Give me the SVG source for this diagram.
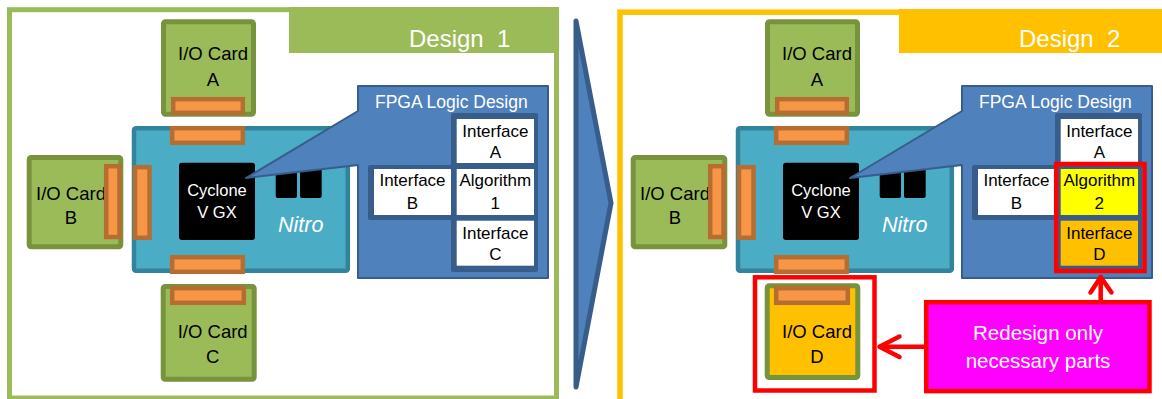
<svg xmlns="http://www.w3.org/2000/svg" width="1162" height="399" viewBox="0 0 1162 399">
<defs>
<style>
text{font-family:"Liberation Sans",Arial,sans-serif}
.card{fill:#9BBB59;stroke:#77933C;stroke-width:5}
.cardD{fill:#FFC000;stroke:#77933C;stroke-width:5}
.conn{fill:#F79646;stroke:#B66D31;stroke-width:4.5}
.board{fill:#4BACC6;stroke:#31849B;stroke-width:4.5}
.chip{fill:#000}
.callout{fill:#4F81BD;stroke:#385D8A;stroke-width:2;stroke-linejoin:round}
.frame{fill:#385D8A}
.cell{fill:#FFFFFF}
.ct{font-size:18.5px;fill:#000;text-anchor:middle}
.cellt{font-size:17px;fill:#000;text-anchor:middle}
.chipt{font-size:16.5px;fill:#FFFFFF;text-anchor:middle}
.nitro{font-size:21.5px;font-style:italic;fill:#FFFFFF}
.fpgat{font-size:17.5px;fill:#FFFFFF}
.red{fill:none;stroke:#FF0000;stroke-width:4.5}
.arrow{fill:none;stroke:#FF0000;stroke-width:4.5;stroke-linecap:round;stroke-linejoin:round}
</style>
</defs>

<!-- Panel 1 -->
<g id="panel1">
<rect x="9.5" y="9.7" width="547" height="388.3" fill="#FFFFFF" stroke="#9BBB59" stroke-width="5"/>
<rect x="289" y="7" width="270" height="46" fill="#9BBB59"/>
<text x="409" y="47" font-size="24" fill="#FFFFFF" xml:space="preserve">Design  1</text>
</g>

<g id="cardA1">
<rect class="card" x="163.5" y="21.8" width="90" height="92.4" rx="2"/>
<text class="ct" x="213" y="60">I/O Card</text>
<text class="ct" x="213" y="86">A</text>
<rect class="conn" x="173.2" y="99.2" width="69.6" height="13.6"/>
</g>

<g id="cardB1">
<rect class="card" x="29.2" y="157.5" width="91.6" height="89.3" rx="2"/>
<text class="ct" x="71" y="200">I/O Card</text>
<text class="ct" x="71" y="224">B</text>
<rect class="conn" x="106.2" y="166.2" width="13.3" height="70.8"/>
</g>

<g id="board1">
<rect class="board" x="134" y="128.3" width="213.8" height="142.5" rx="2"/>
<rect class="conn" x="172.2" y="128.2" width="70.6" height="14.6"/>
<rect class="conn" x="135" y="167.2" width="14.5" height="70.6"/>
<rect class="conn" x="172.2" y="257.2" width="70.6" height="14.6"/>
<rect class="chip" x="179" y="162.7" width="76" height="77.3" rx="3"/>
<text class="chipt" x="217" y="196">Cyclone</text>
<text class="chipt" x="217" y="218">V GX</text>
<rect class="chip" x="275.7" y="165" width="21.3" height="33" rx="2"/>
<rect class="chip" x="300" y="165" width="21.7" height="33" rx="2"/>
<text class="nitro" x="278" y="231.7">Nitro</text>
</g>

<g id="cardC1">
<rect class="card" x="163.2" y="286.5" width="91" height="92.7" rx="2"/>
<text class="ct" x="212.7" y="338">I/O Card</text>
<text class="ct" x="212.7" y="363">C</text>
<rect class="conn" x="172.2" y="288.2" width="71.6" height="14.6"/>
</g>

<g id="fpga1">
<path class="callout" d="M358,86 H548 V278 H358 V165 L246,178 L358,111 Z"/>
<text class="fpgat" x="375" y="108">FPGA Logic Design</text>
<rect class="frame" x="451" y="113" width="87" height="159" rx="2"/>
<rect class="frame" x="368" y="165" width="86" height="55" rx="2"/>
<rect class="cell" x="456.7" y="119" width="77.3" height="44"/>
<rect class="cell" x="456.7" y="169" width="77.3" height="46"/>
<rect class="cell" x="456.7" y="220.7" width="77.3" height="45"/>
<rect class="cell" x="374" y="169" width="77" height="46"/>
<text class="cellt" x="495.3" y="137">Interface</text>
<text class="cellt" x="495.3" y="158">A</text>
<text class="cellt" x="495.3" y="186">Algorithm</text>
<text class="cellt" x="495.3" y="209">1</text>
<text class="cellt" x="495.3" y="239">Interface</text>
<text class="cellt" x="495.3" y="260">C</text>
<text class="cellt" x="412.5" y="186">Interface</text>
<text class="cellt" x="412.5" y="209">B</text>
</g>

<!-- big arrow -->
<g id="bigArrow">
<polygon points="576,21 611,203 576,387" fill="#4F81BD" stroke="#385D8A" stroke-width="5" stroke-linejoin="round"/>
</g>

<!-- Panel 2 -->
<g id="panel2">
<rect x="620" y="12.2" width="560" height="400" fill="#FFFFFF" stroke="#FFC000" stroke-width="5.5"/>
<rect x="899" y="9" width="270" height="44" fill="#FFC000"/>
<text x="1019" y="47" font-size="24" fill="#FFFFFF" xml:space="preserve">Design  2</text>
</g>

<g id="cardA2">
<rect class="card" x="767.5" y="21.8" width="90" height="92.4" rx="2"/>
<text class="ct" x="817" y="60">I/O Card</text>
<text class="ct" x="817" y="86">A</text>
<rect class="conn" x="777.2" y="99.2" width="69.6" height="13.6"/>
</g>

<g id="cardB2">
<rect class="card" x="633.2" y="157.5" width="91.6" height="89.3" rx="2"/>
<text class="ct" x="675" y="200">I/O Card</text>
<text class="ct" x="675" y="224">B</text>
<rect class="conn" x="710.2" y="166.2" width="13.3" height="70.8"/>
</g>

<g id="board2">
<rect class="board" x="738" y="128.3" width="213.8" height="142.5" rx="2"/>
<rect class="conn" x="776.2" y="128.2" width="70.6" height="14.6"/>
<rect class="conn" x="739" y="167.2" width="14.5" height="70.6"/>
<rect class="conn" x="776.2" y="257.2" width="70.6" height="14.6"/>
<rect class="chip" x="783" y="162.7" width="76" height="77.3" rx="3"/>
<text class="chipt" x="821" y="196">Cyclone</text>
<text class="chipt" x="821" y="218">V GX</text>
<rect class="chip" x="879.7" y="165" width="21.3" height="33" rx="2"/>
<rect class="chip" x="904" y="165" width="21.7" height="33" rx="2"/>
<text class="nitro" x="882" y="231.7">Nitro</text>
</g>

<g id="cardD2">
<rect class="cardD" x="767.2" y="285.8" width="90.6" height="91.7" rx="2"/>
<text class="ct" x="817" y="338">I/O Card</text>
<text class="ct" x="817" y="363">D</text>
<rect class="conn" x="776.2" y="288.2" width="71.6" height="14.6"/>
</g>

<g id="fpga2">
<path class="callout" d="M962,86 H1152 V278 H962 V165 L850,178 L962,111 Z"/>
<text class="fpgat" x="979" y="108">FPGA Logic Design</text>
<rect class="frame" x="1055" y="113" width="87" height="159" rx="2"/>
<rect class="frame" x="972" y="165" width="86" height="55" rx="2"/>
<rect class="cell" x="1060.7" y="119" width="77.3" height="44"/>
<rect x="1060.7" y="169" width="77.3" height="46" fill="#FFFF00"/>
<rect x="1060.7" y="220.7" width="77.3" height="45" fill="#FFC000"/>
<rect class="cell" x="978" y="169" width="77" height="46"/>
<text class="cellt" x="1099.3" y="137">Interface</text>
<text class="cellt" x="1099.3" y="158">A</text>
<text class="cellt" x="1099.3" y="186">Algorithm</text>
<text class="cellt" x="1099.3" y="209">2</text>
<text class="cellt" x="1099.3" y="239">Interface</text>
<text class="cellt" x="1099.3" y="260">D</text>
<text class="cellt" x="1016.5" y="186">Interface</text>
<text class="cellt" x="1016.5" y="209">B</text>
</g>

<g id="highlightFpga">
<rect class="red" x="1056.2" y="164" width="88.3" height="107"/>
</g>
<g id="highlightCardD">
<rect class="red" x="755" y="277.3" width="119.5" height="113.2"/>
</g>

<g id="note">
<rect x="926.2" y="302.2" width="223.3" height="88.9" fill="#FF00FF" stroke="#FF0000" stroke-width="4.5"/>
<text x="1038" y="340" font-size="20.5" fill="#FFFFFF" text-anchor="middle">Redesign only</text>
<text x="1038" y="368.3" font-size="20.5" fill="#FFFFFF" text-anchor="middle">necessary parts</text>
</g>

<g id="connectors">
<path class="arrow" d="M1100.7,300 V277"/>
<path class="arrow" d="M1090.5,292.5 L1100.7,277 L1111.5,292.5"/>
<path class="arrow" d="M924,346.7 H880"/>
<path class="arrow" d="M899.5,336.5 L879.5,346.7 L899.5,357"/>
</g>
</svg>
